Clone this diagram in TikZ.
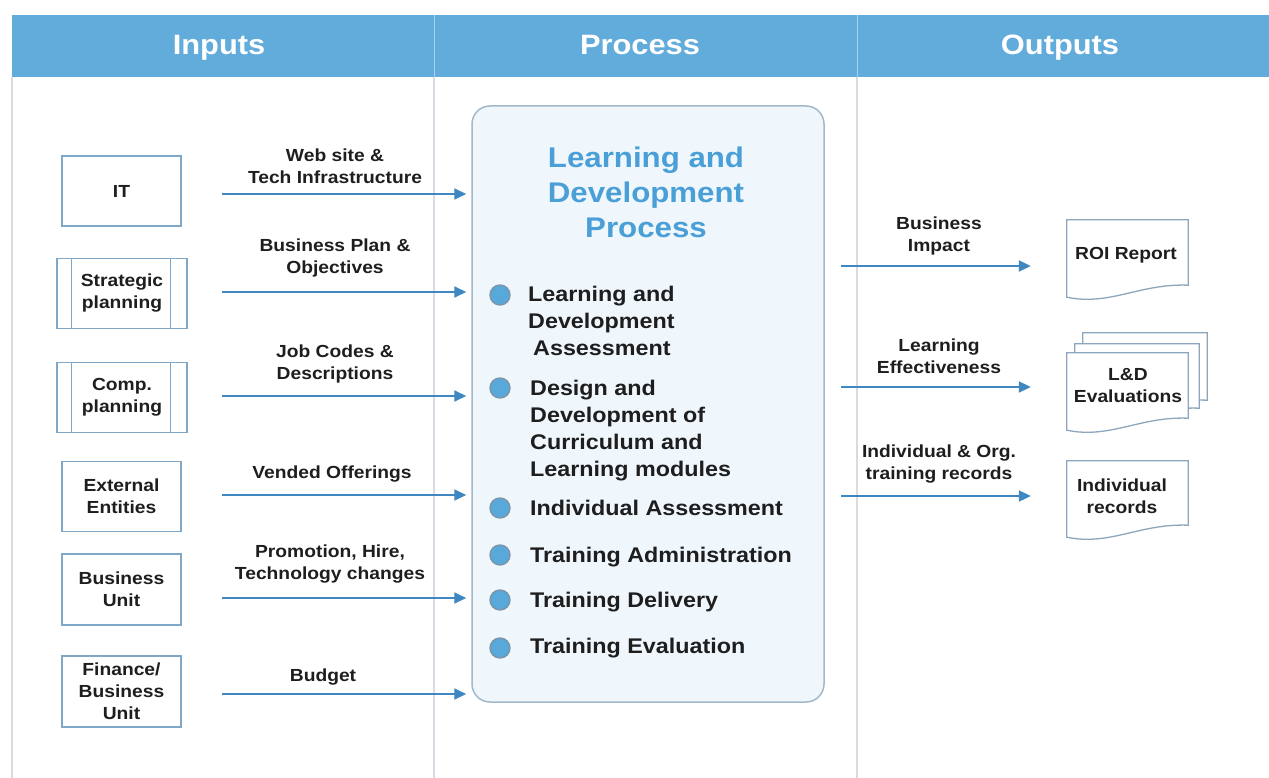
\documentclass[tikz,border=0pt]{standalone}
\usepackage{fontspec}
\setmainfont{Liberation Sans}[FakeStretch=1.1]
\usetikzlibrary{arrows.meta}
\definecolor{hdr}{HTML}{62ACDC}
\definecolor{hdrline}{HTML}{A8D2EE}
\definecolor{arrc}{HTML}{3E87C1}
\definecolor{boxl}{HTML}{7FA7C7}
\definecolor{procfill}{HTML}{EFF7FC}
\definecolor{procline}{HTML}{A3B8C9}
\definecolor{ttlc}{HTML}{4A9FD7}
\definecolor{bul}{HTML}{58A8DA}
\definecolor{bulline}{HTML}{7D95A8}
\definecolor{sepc}{HTML}{D6DCE2}
\definecolor{docl}{HTML}{8DA6BD}
\definecolor{txt}{HTML}{1E1E1E}
\newcommand\boxfont{\fontsize{17.5}{22}\selectfont\bfseries}
\newcommand\lblfont{\fontsize{17.5}{22}\selectfont\bfseries}
\newcommand\itemfont{\fontsize{21.2}{27}\selectfont\bfseries}
\newcommand\ttlfont{\fontsize{28.4}{35}\selectfont\bfseries}
\newcommand\hdrfont{\fontsize{28}{32}\selectfont\bfseries}
\newcommand\docpath[1]{(#1.north west) -- (#1.north east) -- (#1.south east)
  .. controls ([xshift=-48pt,yshift=2pt]#1.south east) and ([xshift=43pt,yshift=-21pt]#1.south west)
  .. ([yshift=-12pt]#1.south west) -- cycle}
\begin{document}
\begin{tikzpicture}[x=1pt,y=-1pt,
  inbox/.style={draw=boxl, line width=1.4pt, fill=white, minimum width=119pt, minimum height=70pt,
    align=center, font=\boxfont, text=txt, inner sep=0pt},
  widebox/.style={inbox, minimum width=130pt},
  flow/.style={draw=arrc, line width=2pt, -{Triangle[length=12pt,width=11pt]}},
  lbl/.style={font=\lblfont, align=center, text=txt, inner sep=0pt},
  bullet/.style={circle, fill=bul, draw=bulline, line width=1.4pt, minimum size=20pt, inner sep=0pt},
  item/.style={anchor=north west, font=\itemfont, align=left, text=txt, inner sep=0pt},
  docbox/.style={minimum width=121pt, minimum height=65pt, inner sep=0pt},
  docline/.style={draw=docl, line width=1.3pt, fill=white},
  hdrtext/.style={font=\hdrfont, text=white, inner sep=0pt, anchor=base}]
\useasboundingbox (0,0) rectangle (1269,778);
\fill[white] (0,0) rectangle (1269,778);
% header band
\fill[hdr] (12,15) rectangle (1269,77);
\draw[hdrline, line width=1pt] (434,15) -- (434,77);
\draw[hdrline, line width=1pt] (857,15) -- (857,77);
\draw[sepc, line width=1.2pt] (434,77) -- (434,778);
\draw[sepc, line width=2pt] (857,77) -- (857,778);
\draw[sepc, line width=2.5pt] (12,77) -- (12,778);
\node[hdrtext] (hin) at (219,55) {Inputs};
\node[hdrtext] (hpr) at (640,55) {Process};
\node[hdrtext] (hout) at (1060,55) {Outputs};
% process box
\node[draw=procline, fill=procfill, line width=1.5pt, rounded corners=18pt,
  minimum width=352pt, minimum height=596pt, inner sep=0pt] (proc) at (648,404) {};
\node[font=\ttlfont, text=ttlc, align=center, inner sep=0pt] (ttl) at (646,192) {Learning and\\Development\\Process};
\node[bullet] (b1) at (500,295) {};
\node[bullet] (b2) at (500,388) {};
\node[bullet] (b3) at (500,508) {};
\node[bullet] (b4) at (500,555) {};
\node[bullet] (b5) at (500,600) {};
\node[bullet] (b6) at (500,648) {};
\node[item] (i1) at (528,285.5) {Learning and\\Development\\\hspace*{5pt}Assessment};
\node[item] (i2) at (530,379.5) {Design and\\Development of\\Curriculum and\\Learning modules};
\node[item] (i3) at (530,499.5) {Individual Assessment};
\node[item] (i4) at (530,546.5) {Training Administration};
\node[item] (i5) at (530,591.5) {Training Delivery};
\node[item] (i6) at (530,637.5) {Training Evaluation};
% input boxes
\node[inbox] (it) at (121.5,191) {IT};
\node[widebox] (sp) at (122,293.5) {Strategic\\planning};
\node[widebox] (cp) at (122,397.5) {Comp.\\planning};
\node[inbox] (ee) at (121.5,496.5) {External\\Entities};
\node[inbox, minimum height=71pt] (bu) at (121.5,589.5) {Business\\Unit};
\node[inbox, minimum height=71pt] (fb) at (121.5,691.5) {Finance/\\Business\\Unit};
\foreach \b in {sp,cp}{
  \draw[boxl, line width=1.2pt] ([xshift=15.5pt]\b.north west) -- ([xshift=15.5pt]\b.south west);
  \draw[boxl, line width=1.2pt] ([xshift=-17pt]\b.north east) -- ([xshift=-17pt]\b.south east);
}
% input arrows
\coordinate (a1) at (222,194);
\coordinate (a2) at (222,292);
\coordinate (a3) at (222,396);
\coordinate (a4) at (222,495);
\coordinate (a5) at (222,598);
\coordinate (a6) at (222,694);
\foreach \a in {a1,a2,a3,a4,a5,a6}
  \draw[flow, shorten >=5pt] (\a) -- (\a -| proc.west);
\node[lbl] (l1) at (335,166) {Web site \&\\Tech Infrastructure};
\node[lbl] (l2) at (335,258) {Business Plan \&\\Objectives};
\node[lbl] (l3) at (335,364) {Job Codes \&\\Descriptions};
\node[lbl] (l4) at (332,474) {Vended Offerings};
\node[lbl] (l5) at (330,564) {Promotion, Hire,\\Technology changes};
\node[lbl] (l6) at (323,677) {Budget};
% output documents
\node[docbox] (roi) at (1127.5,252.5) {};
\node[docbox, minimum width=124pt, minimum height=67pt] (lde3) at (1145,366.5) {};
\node[docbox, minimum width=124pt, minimum height=64pt] (lde2) at (1137,376) {};
\node[docbox] (lde) at (1127.5,385.5) {};
\node[docbox, minimum height=64pt] (ind) at (1127.5,493) {};
\draw[docline] \docpath{roi};
\draw[docline] \docpath{lde3};
\draw[docline] \docpath{lde2};
\draw[docline] \docpath{lde};
\draw[docline] \docpath{ind};
\node[lbl] (roit) at (1126,255) {ROI Report};
\node[lbl] (ldet) at (1128,386) {L\&D\\Evaluations};
\node[lbl] (indt) at (1122,496) {Individual\\records};
% output arrows
\coordinate (o1) at (841,266);
\coordinate (o2) at (841,387);
\coordinate (o3) at (841,496);
\draw[flow, shorten >=36pt] (o1) -- (o1 -| roi.west);
\draw[flow, shorten >=36pt] (o2) -- (o2 -| lde.west);
\draw[flow, shorten >=36pt] (o3) -- (o3 -| ind.west);
\node[lbl] (m1) at (939,236) {Business\\Impact};
\node[lbl] (m2) at (939,356.5) {Learning\\Effectiveness};
\node[lbl] (m3) at (939,464.5) {Individual \& Org.\\training records};
\end{tikzpicture}
\end{document}
